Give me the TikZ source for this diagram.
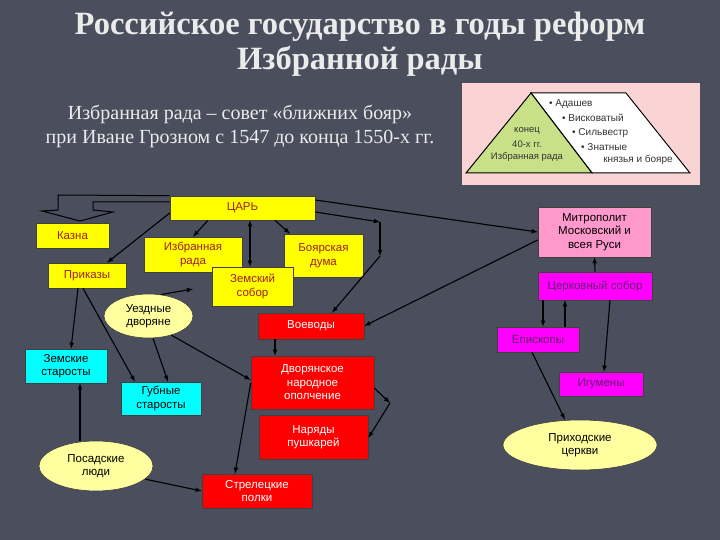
\documentclass[tikz,border=0pt]{standalone}
\usepackage{fontspec}
\setmainfont{Liberation Serif}
\setsansfont{Liberation Sans}
\usetikzlibrary{shapes.geometric}

\definecolor{bgcol}{RGB}{74,78,93}
\definecolor{tsartext}{RGB}{160,30,30}
\definecolor{magtext}{RGB}{100,30,110}
\definecolor{pinkbox}{RGB}{255,153,204}
\definecolor{ovalfill}{RGB}{255,255,160}
\definecolor{picpink}{RGB}{250,212,212}
\definecolor{picgreen}{RGB}{200,224,135}
\definecolor{cyanfill}{RGB}{0,255,255}
\definecolor{magfill}{RGB}{255,0,255}
\definecolor{redfill}{RGB}{255,0,0}
\definecolor{yelfill}{RGB}{255,255,0}

\tikzset{
  box/.style={draw=black!75, line width=0.6pt, inner sep=0pt, align=center,
    font=\sffamily\fontsize{11.5}{13.5}\selectfont},
  yel/.style={box, fill=yelfill, text=tsartext},
  redbox/.style={box, fill=redfill, text=white},
  cyanbox/.style={box, fill=cyanfill, text=black},
  magbox/.style={box, fill=magfill, text=magtext},
  mitrbox/.style={box, fill=pinkbox, text=black},
  oval/.style={box, ellipse, fill=ovalfill, text=black},
  arr/.style={-latex, line width=1.1pt, black},
  small/.style={font=\sffamily\fontsize{9.5}{10}\selectfont, text=black!80, inner sep=0pt},
  listtext/.style={small, anchor=west, font=\sffamily\fontsize{10}{10}\selectfont}
}

\begin{document}
\begin{tikzpicture}[x=1pt,y=-1pt]
                \fill[bgcol] (0,0) rectangle (720,540);

                \node[text=white!92!black, align=center, font=\bfseries\fontsize{32.5}{35}\selectfont] (title) at (360,44)
                  {Российское государство в годы реформ\\Избранной рады};
                \node[text=white!92!black, align=center, font=\fontsize{20}{24}\selectfont] (sub) at (240,126)
                  {Избранная рада – совет «ближних бояр»\\при Иване Грозном с 1547 до конца 1550-х гг.};

                \fill[picpink] (462,83) rectangle (700,185);
                \filldraw[fill=white, line width=1pt] (531,93) -- (626,93) -- (690,173) -- (592,173) -- cycle;
                \filldraw[fill=picgreen, line width=1pt] (531,93) -- (466,173) -- (592,173) -- cycle;
                \node[small] (p1) at (527,131) {конец};
                \node[small] (p2) at (527,144) {40-х гг.};
                \node[small] (p3) at (527,157) {Избранная рада};
                \node[listtext] (l1) at (549,104) {• Адашев};
                \node[listtext] (l2) at (562,118) {• Висковатый};
                \node[listtext] (l3) at (572,133) {• Сильвестр};
                \node[listtext] (l4) at (581,147) {• Знатные};
                \node[listtext, anchor=center] (l5) at (638,160) {князья и бояре};

                \node[yel, minimum width=145pt, minimum height=24pt] (tsar) at (242.5,208) {ЦАРЬ};
                \node[yel, minimum width=73pt, minimum height=25pt] (kazna) at (72.5,235.5) {Казна};
                \node[yel, minimum width=98pt, minimum height=35pt] (rada) at (193,254.5) {Избранная\\рада};
                \node[yel, minimum width=78pt, minimum height=25pt] (prikazy) at (87,275.5) {Приказы};
                \node[yel, minimum width=79pt, minimum height=43pt] (duma) at (323.5,255.5) {Боярская\\дума};
                \node[yel, minimum width=81pt, minimum height=39pt] (sobor) at (252.5,286.5) {Земский\\собор};
                \node[oval, minimum width=89pt, minimum height=44pt] (uezd) at (148.5,316) {Уездные\\дворяне};
                \node[redbox, minimum width=106pt, minimum height=26pt] (voevody) at (311,326) {Воеводы};

                \node[mitrbox, minimum width=113pt, minimum height=50pt] (mitr) at (594.5,232) {Митрополит\\Московский и\\всея Руси};
                \node[magbox, minimum width=114pt, minimum height=28pt] (tserk) at (595,286) {Церковный собор};
                \node[magbox, minimum width=82pt, minimum height=25pt] (episk) at (538,339.5) {Епископы};
                \node[magbox, minimum width=84pt, minimum height=24pt] (igum) at (601,384) {Игумены};
                \node[oval, minimum width=154pt, minimum height=50pt] (prihod) at (580,445) {Приходские\\церкви};

                \node[cyanbox, minimum width=82pt, minimum height=34pt] (zemst) at (66,366) {Земские\\старосты};
                \node[cyanbox, minimum width=80pt, minimum height=33pt] (gubn) at (161,398.5) {Губные\\старосты};
                \node[oval, minimum width=114pt, minimum height=50pt] (posad) at (96,466) {Посадские\\люди};
                \node[redbox, minimum width=123pt, minimum height=53pt] (dvor) at (312.5,382.5) {Дворянское\\народное\\ополчение};
                \node[redbox, minimum width=109pt, minimum height=44pt] (naryady) at (313.5,437) {Наряды\\пушкарей};
                \node[redbox, minimum width=110pt, minimum height=34pt] (strel) at (257,491) {Стрелецкие\\полки};

                \filldraw[fill=bgcol, line width=1pt] (tsar.north west) -- (58,195) -- (58,210) -- (42,211)
                  -- (80,221) -- (113,212) -- (93,210) -- (93,202) -- (tsar.west |- 0,202);

                \coordinate (bend1) at (380,222);
                \coordinate (bend2) at (380,256);
                \coordinate (bend3) at (390,403);
                \coordinate (soborpt) at (193,289);

                \draw[arr] ([yshift=-5pt]tsar.west) -- ([xshift=20pt]prikazy.north);
                \draw[arr] ([xshift=-34.5pt]tsar.south) -- (rada.north);
                \draw[arr, latex-latex] ([xshift=7.5pt]tsar.south) -- ([xshift=7.5pt]tsar.south |- sobor.north);
                \draw[arr] ([xshift=32.5pt]tsar.south) -- ([xshift=-33.5pt]duma.north);
                \draw[arr] ([yshift=8pt]tsar.east) -- (mitr.west);
                \draw[arr] ([yshift=-4pt]tsar.east) -- (bend1);
                \draw[arr] (bend1) -- (bend2);
                \draw[arr] (bend2) -- ([xshift=21pt]voevody.north);
                \draw[arr] ([yshift=-8pt]mitr.west) -- (voevody.east);

                \draw[arr] (tserk.north) -- (mitr.south);
                \draw[arr] ([xshift=-52pt]tserk.south) -- ([xshift=-52pt]tserk.south |- episk.north);
                \draw[arr] ([xshift=27pt]episk.north) -- ([xshift=27pt]episk.north |- tserk.south);
                \draw[arr] ([xshift=15pt]tserk.south) -- ([xshift=3pt]igum.north);
                \draw[arr] ([xshift=-6pt]episk.south) -- ([xshift=-15pt]prihod.north);

                \draw[arr] ([xshift=-9pt]prikazy.south) -- ([xshift=5pt]zemst.north);
                \draw[arr] ([xshift=-4pt]prikazy.south) -- ([xshift=-26pt]gubn.north);
                \draw[arr] ([xshift=4.5pt]uezd.south) -- ([xshift=7pt]gubn.north);
                \draw[arr] (uezd.60) -- (soborpt);
                \draw[arr] (uezd.-40) -- ([yshift=2.5pt]dvor.west);
                \draw[arr] ([xshift=-36pt]voevody.south) -- ([xshift=-36pt]voevody.south |- dvor.north);
                \draw[arr] ([yshift=-5.5pt]dvor.east) -- (bend3);
                \draw[arr] (bend3) -- ([yshift=-1pt]naryady.east);
                \draw[arr] ([xshift=-16pt]posad.north) -- ([xshift=-16pt]posad.north |- zemst.south);
                \draw[arr] (posad.-15) -- (strel.west);
                \draw[arr] ([yshift=-0.5pt]dvor.west) -- ([xshift=-22pt]strel.north);
            \end{tikzpicture}
\end{document}
